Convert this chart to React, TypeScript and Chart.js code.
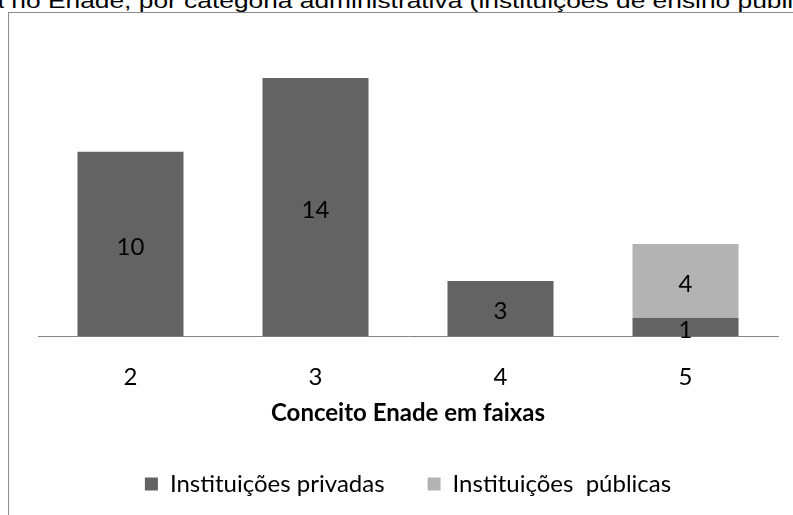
import React, { useEffect, useRef } from "react";
import { Chart, registerables } from "chart.js";

Chart.register(...registerables);

const categories = ["2", "3", "4", "5"];
const privadas = [10, 14, 3, 1];
const publicas = [0, 0, 0, 4];
const seriesNames = ["Instituições privadas", "Instituições  públicas"];
const seriesColors = ["#636363", "#b3b3b3"];
const axisTitle = "Conceito Enade em faixas";
const yMax = 16;
const titlePrefix = "Distribuição dos cursos por faixa";
const titleRest =
  " no Enade, por categoria administrativa (instituições de ensino públicas e privadas)";

const FONT = "Lato";

const valueLabels = {
  id: "valueLabels",
  afterDatasetsDraw(chart: any) {
    const ctx = chart.ctx;
    ctx.save();
    ctx.font = `24px ${FONT}`;
    ctx.fillStyle = "#000";
    ctx.textAlign = "center";
    ctx.textBaseline = "middle";
    chart.data.datasets.forEach((ds: any, di: number) => {
      const meta = chart.getDatasetMeta(di);
      meta.data.forEach((el: any, i: number) => {
        const v = ds.data[i];
        if (!v) return;
        const { x, y, base } = el.getProps(["x", "y", "base"], true);
        ctx.fillText(String(v), x, (y + base) / 2 + 3);
      });
    });
    ctx.restore();
  },
};

export default function App() {
  const ref = useRef<HTMLCanvasElement | null>(null);

  useEffect(() => {
    if (!ref.current) return;
    const chart = new Chart(ref.current, {
      type: "bar",
      data: {
        labels: categories,
        datasets: [
          {
            label: seriesNames[0],
            data: privadas,
            backgroundColor: seriesColors[0],
            borderWidth: 0,
            barPercentage: 0.573,
            categoryPercentage: 1,
          },
          {
            label: seriesNames[1],
            data: publicas,
            backgroundColor: seriesColors[1],
            borderWidth: 0,
            barPercentage: 0.573,
            categoryPercentage: 1,
          },
        ],
      },
      options: {
        animation: false,
        responsive: false,
        maintainAspectRatio: false,
        layout: { padding: { left: 30, right: 36, top: 29, bottom: 9 } },
        scales: {
          x: {
            stacked: true,
            grid: { display: false, drawTicks: false },
            border: { display: true, color: "#868686", width: 1 },
            ticks: {
              color: "#000",
              font: { family: FONT, size: 24 },
              padding: 26,
            },
            title: {
              display: true,
              text: axisTitle,
              color: "#000",
              font: { family: FONT, size: 24, weight: "bold" },
              padding: { top: -18, bottom: 1 },
            },
          },
          y: { stacked: true, display: false, min: 0, max: yMax },
        },
        plugins: {
          legend: {
            position: "bottom",
            labels: {
              boxWidth: 13,
              boxHeight: 13,
              padding: 43,
              color: "#000",
              font: { family: FONT, size: 24 },
            },
          },
          tooltip: { enabled: false },
          title: { display: false },
        },
      },
      plugins: [valueLabels],
    } as any);
    return () => chart.destroy();
  }, []);

  return (
    <div
      style={{
        position: "fixed",
        left: 0,
        top: 0,
        width: 793,
        height: 515,
        overflow: "hidden",
        background: "#fff",
      }}
    >
      <div
        style={{
          position: "absolute",
          left: 4,
          top: -9,
          whiteSpace: "pre",
          fontFamily: "'Liberation Sans', Arial, sans-serif",
          fontSize: 20,
          lineHeight: "20px",
          color: "#000",
          transform: "scaleX(1.317)",
          transformOrigin: "0 0",
        }}
      >
        <span style={{ position: "absolute", right: "100%", top: 0 }}>{titlePrefix}</span>
        {titleRest}
      </div>
      <div
        style={{
          position: "absolute",
          left: 8,
          top: 12,
          width: 900,
          height: 700,
          border: "1px solid #8c8c8c",
          boxSizing: "border-box",
        }}
      />
      <canvas
        ref={ref}
        width={806}
        height={503}
        style={{ position: "absolute", left: 8, top: 12, width: 806, height: 503 }}
      />
    </div>
  );
}
